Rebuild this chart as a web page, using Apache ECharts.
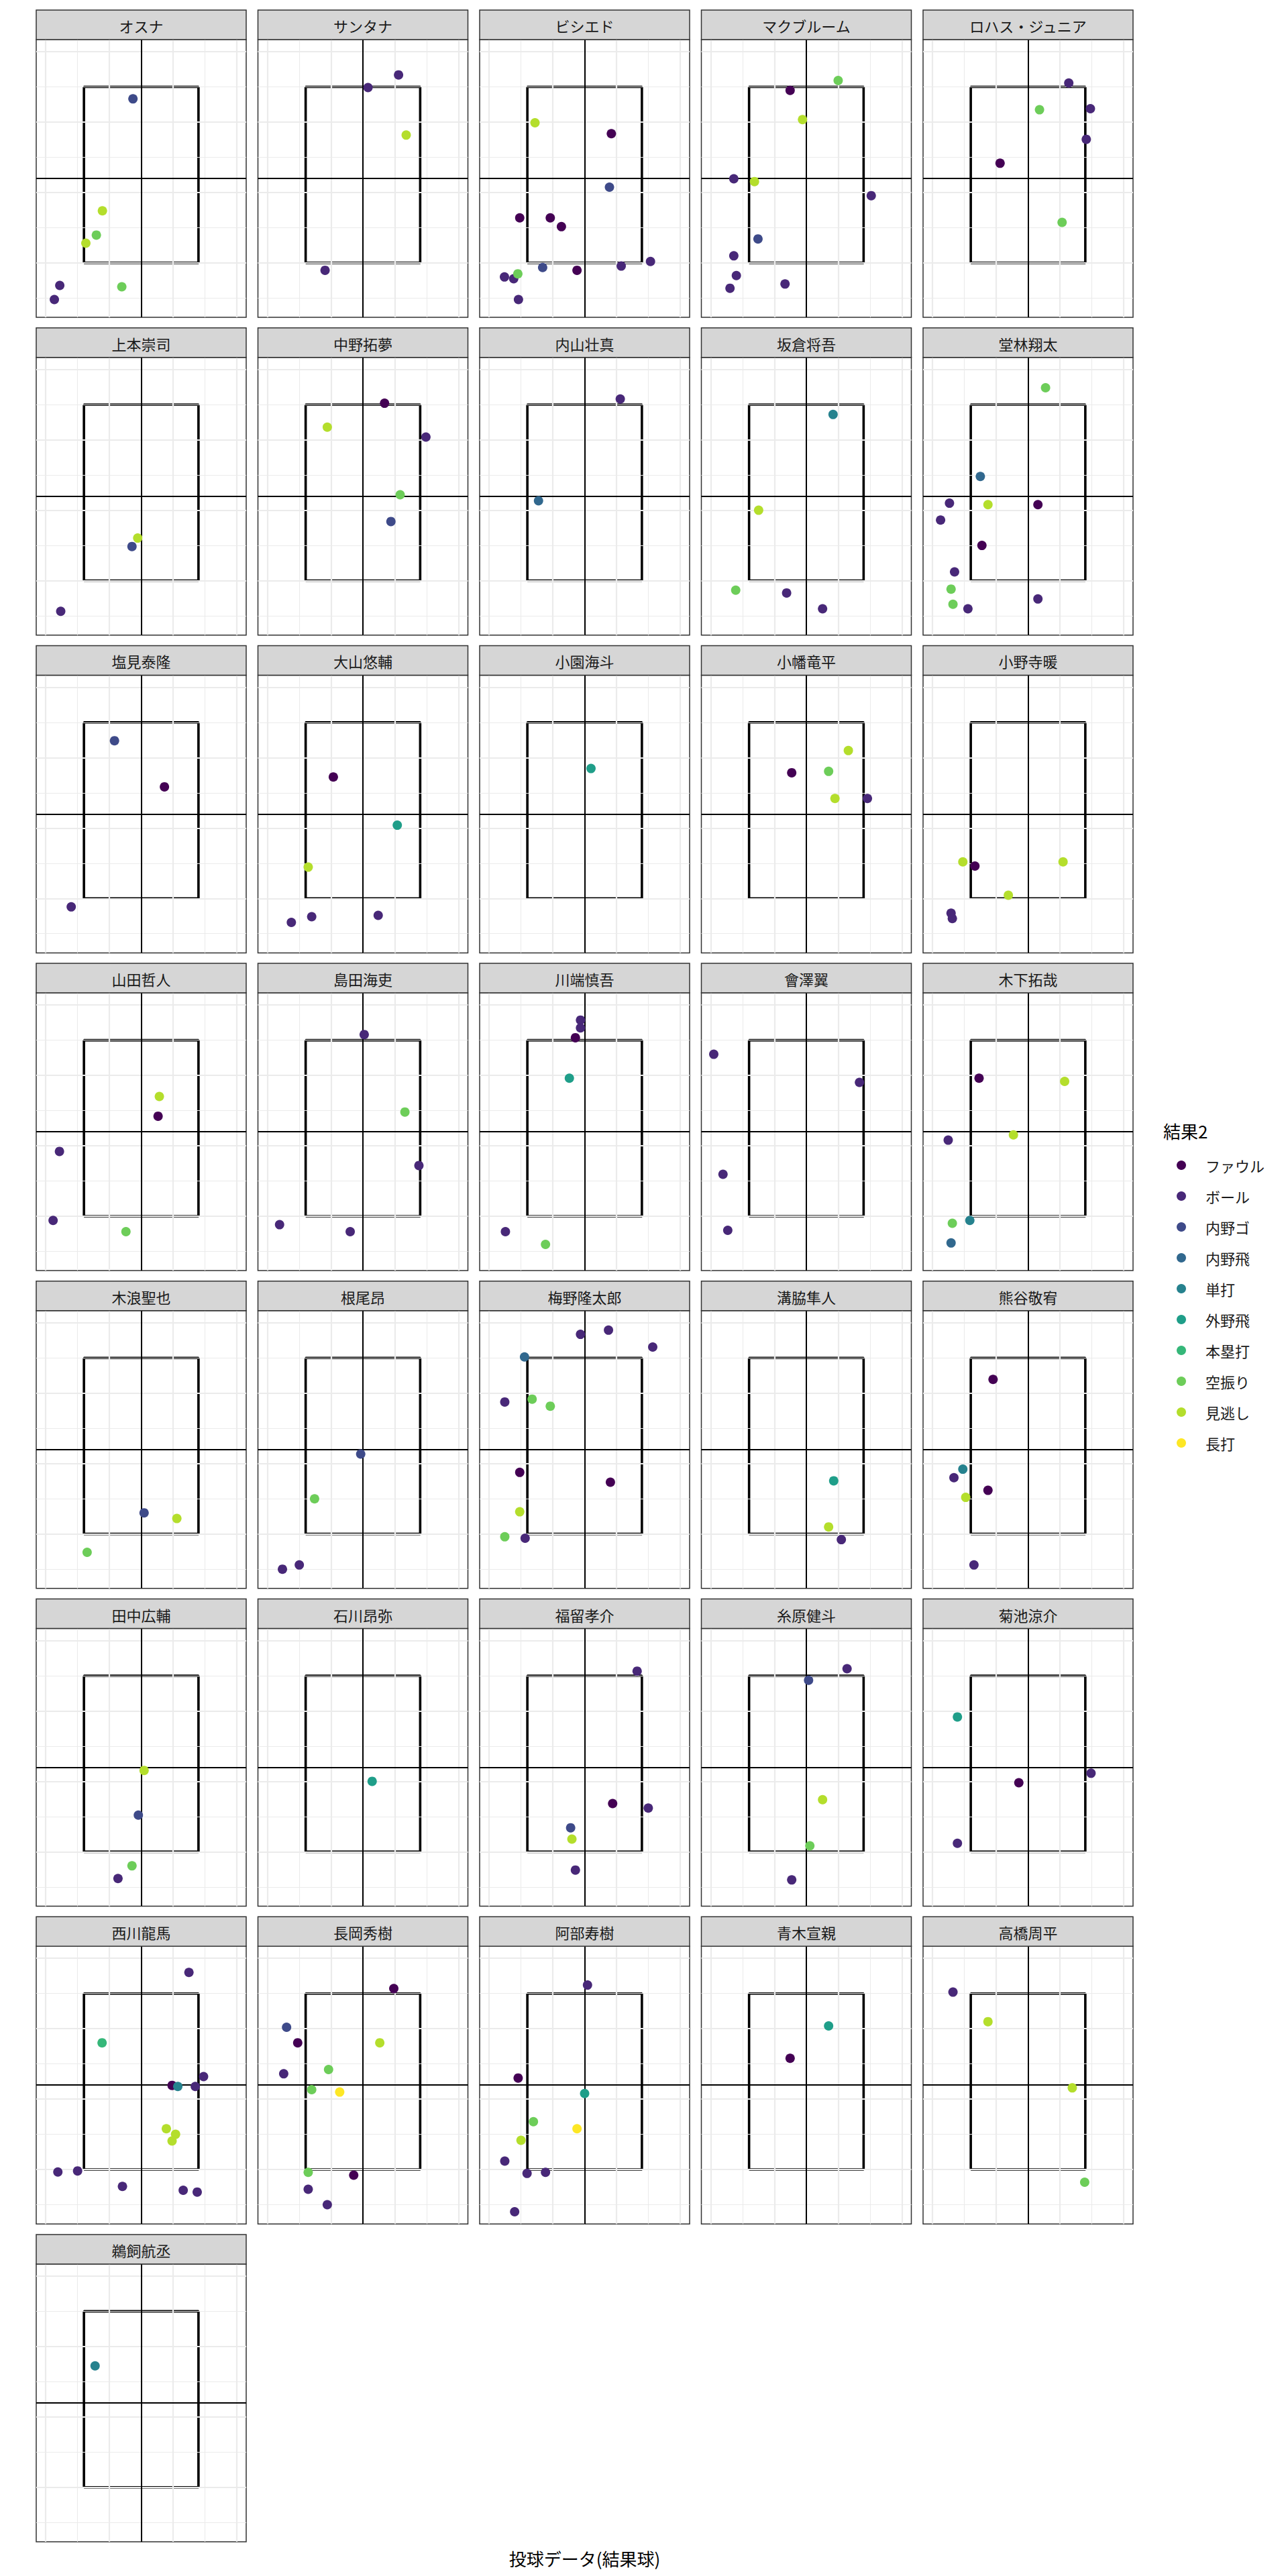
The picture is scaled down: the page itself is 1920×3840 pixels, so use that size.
<!DOCTYPE html>
<html>
<head>
<meta charset="utf-8">
<script src="https://cdn.jsdelivr.net/npm/echarts@6/dist/echarts.min.js"></script>
<style>
html,body{margin:0;padding:0;background:#fff;}
#chart{width:1920px;height:3840px;}
</style>
</head>
<body>
<div id="chart"></div>
<script>
// ---- categories ----
const resultNames = ['ファウル','ボール','内野ゴ','内野飛','単打','外野飛','本塁打','空振り','見逃し','長打'];
const playerNames = ['オスナ','サンタナ','ビシエド','マクブルーム','ロハス・ジュニア',
  '上本崇司','中野拓夢','内山壮真','坂倉将吾','堂林翔太',
  '塩見泰隆','大山悠輔','小園海斗','小幡竜平','小野寺暖',
  '山田哲人','島田海吏','川端慎吾','會澤翼','木下拓哉',
  '木浪聖也','根尾昂','梅野隆太郎','溝脇隼人','熊谷敬宥',
  '田中広輔','石川昂弥','福留孝介','糸原健斗','菊池涼介',
  '西川龍馬','長岡秀樹','阿部寿樹','青木宣親','高橋周平',
  '鵜飼航丞'];

// ---- values (one row per player: horizontal, vertical, result index) ----
const pitchX = [
  [-0.26,-1.22,-1.41,-1.74,-2.56,-2.73,-0.61],
  [1.12,0.16,1.36,-1.19],
  [-1.56,0.84,0.78,-2.04,-1.08,-0.73,-1.32,-0.24,1.15,2.07,-2.1,-2.52,-2.23,-2.08],
  [1.0,-0.51,-0.12,-2.28,-1.63,2.04,-1.52,-2.28,-2.2,-2.4,-0.67],
  [1.28,0.36,1.96,1.83,-0.88,1.07],
  [-0.11,-0.29,-2.53],
  [0.68,-1.12,1.98,1.17,0.88],
  [1.12,-1.45],
  [0.84,-1.5,-2.22,-0.62,0.51],
  [0.55,-1.5,-2.47,-1.26,0.31,-2.75,-1.45,-2.31,-2.42,-2.36,-1.89,0.31],
  [-0.84,0.73,-2.2],
  [-0.93,1.08,-1.72,-1.61,-2.25,0.48],
  [0.2],
  [1.32,-0.46,0.7,0.9,1.92],
  [-2.05,-1.67,1.1,-0.62,-2.42,-2.38],
  [0.57,0.53,-2.57,-2.77,-0.48],
  [0.04,1.32,1.76,-2.62,-0.4],
  [-0.13,-0.13,-0.29,-0.48,-2.49,-1.23],
  [-2.91,1.67,-2.62,-2.47],
  [-1.54,1.15,-0.46,-2.51,-2.38,-1.83,-2.42],
  [0.09,1.12,-1.7],
  [-0.07,-1.52,-2.0,-2.53],
  [0.75,-0.13,2.14,-1.89,-2.51,-1.65,-1.08,-2.04,0.81,-2.04,-2.51,-1.87],
  [0.86,0.7,1.1],
  [-1.1,-2.05,-2.33,-1.26,-1.96,-1.7],
  [0.09,-0.09,-0.29,-0.73],
  [0.29],
  [1.65,0.88,2.0,-0.44,-0.4,-0.29],
  [1.28,0.07,0.51,0.11,-0.46],
  [-2.22,1.98,-0.29,-2.22],
  [1.5,-1.23,1.96,0.97,1.15,1.7,0.79,1.08,0.97,-2.62,-2.0,-0.59,1.32,1.76],
  [0.97,-2.4,-2.05,0.53,-1.08,-2.49,-1.61,-0.73,-1.72,-0.29,-1.72,-1.12],
  [0.09,-2.09,0.0,-1.61,-0.24,-2.0,-2.51,-1.81,-1.23,-2.2],
  [0.7,-0.51],
  [-2.36,-1.26,1.39,1.78],
  [-1.45]
];
const pitchY = [
  [5.66,2.48,1.79,1.56,0.36,-0.04,0.32],
  [6.34,5.98,4.63,0.79],
  [4.98,4.67,3.15,2.28,2.28,2.03,0.87,0.79,0.91,1.04,0.69,0.6,0.55,-0.04],
  [6.18,5.9,5.07,3.39,3.31,2.91,1.68,1.2,0.64,0.28,0.4],
  [6.11,5.35,5.38,4.51,3.83,2.15],
  [2.21,1.97,0.13],
  [6.04,5.36,5.08,3.44,2.68],
  [6.16,3.27],
  [5.72,3.0,0.73,0.65,0.2],
  [6.48,3.96,3.2,3.16,3.16,2.72,2.0,1.25,0.76,0.33,0.2,0.48],
  [5.48,4.17,0.76],
  [4.45,3.08,1.89,0.48,0.32,0.52],
  [4.69],
  [5.2,4.57,4.61,3.84,3.84],
  [2.04,1.92,2.04,1.09,0.58,0.43],
  [4.4,3.84,2.84,0.88,0.56],
  [6.16,3.96,2.44,0.76,0.56],
  [6.57,6.35,6.07,4.92,0.56,0.2],
  [5.6,4.8,2.19,0.6],
  [4.92,4.83,3.31,3.16,0.8,0.88,0.24],
  [1.6,1.44,0.48],
  [3.27,2.0,0.12,0.0],
  [6.79,6.67,6.31,6.03,4.75,4.83,4.63,2.75,2.47,1.63,0.92,0.88],
  [2.51,1.2,0.84],
  [5.39,2.84,2.6,2.24,2.04,0.12],
  [3.31,2.04,0.6,0.24],
  [3.0],
  [6.13,2.37,2.24,1.68,1.36,0.48],
  [6.2,5.87,2.48,1.17,0.2],
  [4.83,3.23,2.96,1.24],
  [6.6,4.6,3.64,3.39,3.36,3.36,2.16,2.0,1.81,0.93,0.96,0.52,0.41,0.36],
  [6.14,5.04,4.6,4.6,3.84,3.72,3.27,3.2,0.92,0.84,0.44,0.0],
  [6.24,3.6,3.16,2.36,2.16,1.83,1.24,0.89,0.92,-0.2],
  [5.08,4.16],
  [6.04,5.2,3.32,0.64],
  [4.45]
];
const pitchResult = [
  [2,8,7,8,1,1,7],
  [1,1,8,1],
  [8,0,2,0,0,0,2,0,1,1,7,1,1,1],
  [7,0,8,1,8,1,2,1,1,1,1],
  [1,7,1,1,0,7],
  [8,2,1],
  [0,8,1,7,2],
  [1,3],
  [4,8,7,1,1],
  [7,3,1,8,0,1,0,1,7,7,1,1],
  [2,0,1],
  [0,5,8,1,1,1],
  [5],
  [8,0,7,8,1],
  [8,0,8,8,1,1],
  [8,0,1,1,7],
  [1,7,1,1,1],
  [1,1,0,5,1,7],
  [1,1,1,1],
  [0,8,8,1,7,4,3],
  [2,8,7],
  [2,7,1,1],
  [1,1,1,3,1,7,7,0,0,8,7,1],
  [5,8,1],
  [0,4,1,0,8,1],
  [8,2,7,1],
  [5],
  [1,0,1,2,8,1],
  [1,2,8,7,1],
  [5,1,0,1],
  [1,6,1,0,4,1,8,8,8,1,1,1,1,1],
  [0,2,0,8,7,1,7,9,7,0,1,1],
  [1,0,5,7,9,8,1,1,1,1],
  [5,0],
  [1,8,8,7],
  [4]
];

// ---- reference geometry (data units) ----
const xRange = [-3.3, 3.3];
const yRange = [-0.546, 7.343];
const zoneX = [-1.8, 1.8];
const zoneY = [1, 6];
const crossX = 0;
const crossY = 3.4;
const gridMajorX = [-3, -1, 1, 3];
const gridMinorX = [-2, 0, 2];
const gridMajorY = [1, 3, 5, 7];
const gridMinorY = [0, 2, 4, 6];

// ---- styles / layout ----
const resultColors = ['#440154','#482878','#3E4A89','#31688E','#26828E','#1F9E89','#35B779','#6DCD59','#B4DE2C','#FDE725'];
const FONT = '"Noto Sans CJK JP", "Noto Sans", sans-serif';
const L0 = 54, PX = 330.5, T0 = 59, PY = 473.7, PW = 313, PH = 414, SH = 44, NCOL = 5;

const grids = [], xAxes = [], yAxes = [], series = [], graphics = [];

playerNames.forEach((name, p) => {
  const c = p % NCOL, r = Math.floor(p / NCOL);
  const left = L0 + PX * c, top = T0 + PY * r;
  grids.push({left: left, top: top, width: PW, height: PH, show: true,
    backgroundColor: '#FFFFFF', borderColor: '#333333', borderWidth: 1.5, containLabel: false});
  xAxes.push({gridIndex: p, type: 'value', min: xRange[0], max: xRange[1], show: false});
  yAxes.push({gridIndex: p, type: 'value', min: yRange[0], max: yRange[1], show: false});

  // background grid lines
  const gl = [];
  gridMinorX.forEach(v => gl.push({xAxis: v, lineStyle: {color: '#EBEBEB', width: 1.1, type: 'solid'}}));
  gridMinorY.forEach(v => gl.push({yAxis: v, lineStyle: {color: '#EBEBEB', width: 1.1, type: 'solid'}}));
  gridMajorX.forEach(v => gl.push({xAxis: v, lineStyle: {color: '#EBEBEB', width: 2.2, type: 'solid'}}));
  gridMajorY.forEach(v => gl.push({yAxis: v, lineStyle: {color: '#EBEBEB', width: 2.2, type: 'solid'}}));
  series.push({type: 'scatter', xAxisIndex: p, yAxisIndex: p, data: [], z: 1, silent: true,
    markLine: {silent: true, symbol: ['none','none'], label: {show: false}, animation: false, data: gl}});

  // strike zone + crosshair
  series.push({type: 'line', xAxisIndex: p, yAxisIndex: p, z: 2, silent: true, symbol: 'none',
    lineStyle: {color: '#000000', width: 3.6}, animation: false,
    data: [[zoneX[0], zoneY[0]], [zoneX[1], zoneY[0]], [zoneX[1], zoneY[1]], [zoneX[0], zoneY[1]], [zoneX[0], zoneY[0]]],
    markLine: {silent: true, symbol: ['none','none'], label: {show: false}, animation: false,
      lineStyle: {color: '#000000', width: 2, type: 'solid'},
      data: [{xAxis: crossX}, {yAxis: crossY}]}});

  // points per result
  resultNames.forEach((rn, k) => {
    const pts = [];
    pitchResult[p].forEach((res, i) => { if (res === k) pts.push([pitchX[p][i], pitchY[p][i]]); });
    if (pts.length) {
      series.push({type: 'scatter', name: rn, xAxisIndex: p, yAxisIndex: p, z: 5,
        symbol: 'circle', symbolSize: 14, itemStyle: {color: resultColors[k], opacity: 1}, data: pts});
    }
  });

  // strip
  graphics.push({type: 'rect', shape: {x: left, y: top - SH, width: PW, height: SH},
    style: {fill: '#D6D6D6', stroke: '#333333', lineWidth: 1.5}, z: 10});
  graphics.push({type: 'text', z: 11, style: {text: name, x: left + PW / 2, y: top - SH / 2 + 1,
    textAlign: 'center', textVerticalAlign: 'middle', fontSize: 22, fontFamily: FONT, fill: '#1A1A1A'}});
});

graphics.push({type: 'text', z: 11, style: {text: '投球データ(結果球)', x: L0 + (PX * (NCOL - 1) + PW) / 2, y: 3813,
  textAlign: 'center', textVerticalAlign: 'middle', fontSize: 26, fontFamily: FONT, fill: '#000000'}});

const chart = echarts.init(document.getElementById('chart'), null, {renderer: 'svg'});
chart.setOption({
  animation: false,
  backgroundColor: '#FFFFFF',
  textStyle: {fontFamily: FONT},
  title: {text: '結果2', left: 1734, top: 1672, padding: 0,
    textStyle: {fontSize: 26, fontWeight: 'normal', color: '#000000', fontFamily: FONT}},
  legend: {orient: 'vertical', left: 1754, top: 1726, padding: 0, icon: 'circle',
    itemWidth: 14, itemHeight: 14, itemGap: 24, selectedMode: false,
    textStyle: {fontSize: 22, lineHeight: 22, color: '#1A1A1A', fontFamily: FONT, padding: [0, 0, 0, 24]},
    data: resultNames},
  grid: grids, xAxis: xAxes, yAxis: yAxes, series: series, graphic: graphics
});
</script>
</body>
</html>
